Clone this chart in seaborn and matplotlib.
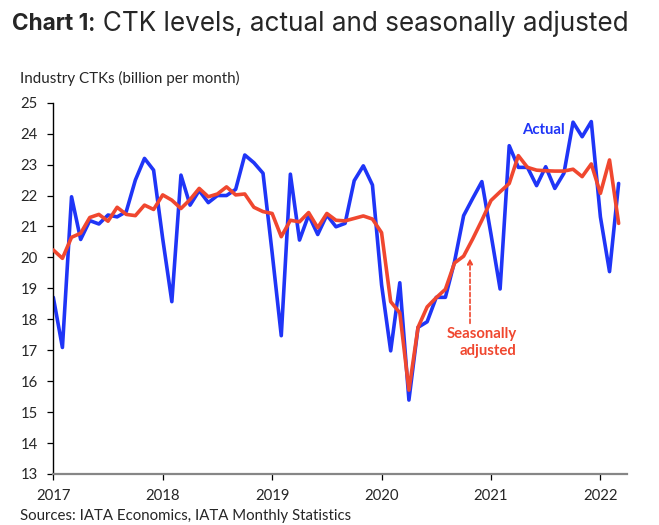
import numpy as np
import pandas as pd
import matplotlib
matplotlib.use("Agg")
import matplotlib.pyplot as plt
import seaborn as sns

# ---- data (monthly, Jan 2017 .. Mar 2022), billion CTKs per month ----
actual = [18.71, 17.09, 21.96, 20.58, 21.19, 21.08, 21.37, 21.31, 21.48, 22.50, 23.20, 22.82,
          20.60, 18.57, 22.66, 21.69, 22.16, 21.77, 22.00, 22.00, 22.20, 23.31, 23.06, 22.72,
          20.15, 17.47, 22.69, 20.56, 21.37, 20.74, 21.37, 20.99, 21.10, 22.48, 22.96, 22.34,
          19.12, 16.98, 19.18, 15.39, 17.74, 17.92, 18.71, 18.71, 19.86, 21.35, 21.91, 22.45,
          20.75, 18.98, 23.61, 22.91, 22.91, 22.32, 22.93, 22.23, 22.72, 24.37, 23.90, 24.39,
          21.31, 19.54, 22.39]
seasonally_adjusted = [20.24, 19.97, 20.65, 20.78, 21.29, 21.39, 21.17, 21.62, 21.39, 21.35, 21.69, 21.55,
                       22.02, 21.85, 21.58, 21.87, 22.23, 21.96, 22.05, 22.28, 22.02, 22.05, 21.62, 21.48,
                       21.42, 20.67, 21.20, 21.15, 21.45, 20.96, 21.42, 21.20, 21.18, 21.26, 21.34, 21.24,
                       20.80, 18.57, 18.21, 15.71, 17.74, 18.40, 18.70, 18.97, 19.82, 20.04, 20.60, 21.20,
                       21.84, 22.12, 22.39, 23.29, 22.91, 22.82, 22.80, 22.79, 22.79, 22.85, 22.61, 23.02,
                       22.07, 23.15, 21.10]
years = ["2017", "2018", "2019", "2020", "2021", "2022"]
y_ticks = list(range(13, 26))

months = np.arange(len(actual))
df = pd.DataFrame({
    "month": np.concatenate([months, months]),
    "value": actual + seasonally_adjusted,
    "series": ["Actual"] * len(actual) + ["Seasonally adjusted"] * len(seasonally_adjusted),
})

BLUE = "#1f35f7"
RED = "#f0472f"

sns.set_style("white")
plt.rcParams["font.family"] = ["Lato", "DejaVu Sans"]

fig = plt.figure(figsize=(6.59, 5.25), dpi=100)
ax = fig.add_axes([53.3 / 659, 1 - 474 / 525, (627.3 - 53.3) / 659, (474 - 102.7) / 525])

sns.lineplot(data=df, x="month", y="value", hue="series",
             palette={"Actual": BLUE, "Seasonally adjusted": RED},
             hue_order=["Actual", "Seasonally adjusted"],
             linewidth=2.6, ax=ax, legend=False)
ax.lines[1].set_zorder(3)

ax.set_xlim(0, 62.95)
ax.set_ylim(13, 25)
ax.set_xticks([12 * i for i in range(len(years))])
ax.set_xticklabels(years)
ax.set_yticks(y_ticks)
ax.set_xlabel("")
ax.set_ylabel("")

for s in ["top", "right"]:
    ax.spines[s].set_visible(False)
ax.spines["left"].set_color("black")
ax.spines["left"].set_linewidth(1.0)
ax.spines["bottom"].set_color("#868686")
ax.spines["bottom"].set_linewidth(1.6)

ax.tick_params(axis="y", direction="out", length=4, width=0.9, color="black",
               labelsize=10.7, pad=7, left=True)
ax.tick_params(axis="x", direction="out", length=4, width=0.9, color="black",
               labelsize=10.7, pad=7, bottom=True)

# annotations
ax.text(53.7, 24.11, "Actual", color=BLUE, fontsize=10.7, fontweight="bold",
        ha="center", va="center")
ax.text(50.8, 17.25, "Seasonally\nadjusted", color=RED, fontsize=10.7, fontweight="bold",
        ha="right", va="center", multialignment="right", linespacing=1.25)
ax.annotate("", xy=(45.7, 19.97), xytext=(45.7, 17.87),
            arrowprops=dict(arrowstyle="-|>", color=RED, linestyle=(0, (2.5, 1.5)),
                            linewidth=1.2, mutation_scale=8, shrinkA=0, shrinkB=0))

# title in two weights
TITLE_Y = 1 - 24 / 525
t1 = fig.text(12 / 659, TITLE_Y, "Chart 1", fontsize=16.3, fontweight="bold",
              family=["Inter", "Liberation Sans", "DejaVu Sans"], ha="left", va="center")
fig.canvas.draw()
bb = t1.get_window_extent(renderer=fig.canvas.get_renderer())
fig.text(bb.x1 / 659, TITLE_Y, ": CTK levels, actual and seasonally adjusted",
         fontsize=18.8, family=["Inter", "Liberation Sans", "DejaVu Sans"], ha="left", va="center")

fig.text(20 / 659, 1 - 78 / 525, "Industry CTKs (billion per month)", fontsize=10.9,
         ha="left", va="center")
fig.text(20 / 659, 1 - 516 / 525, "Sources: IATA Economics, IATA Monthly Statistics",
         fontsize=10.8, ha="left", va="center")

fig.savefig("out.png", dpi=100, facecolor="white")
